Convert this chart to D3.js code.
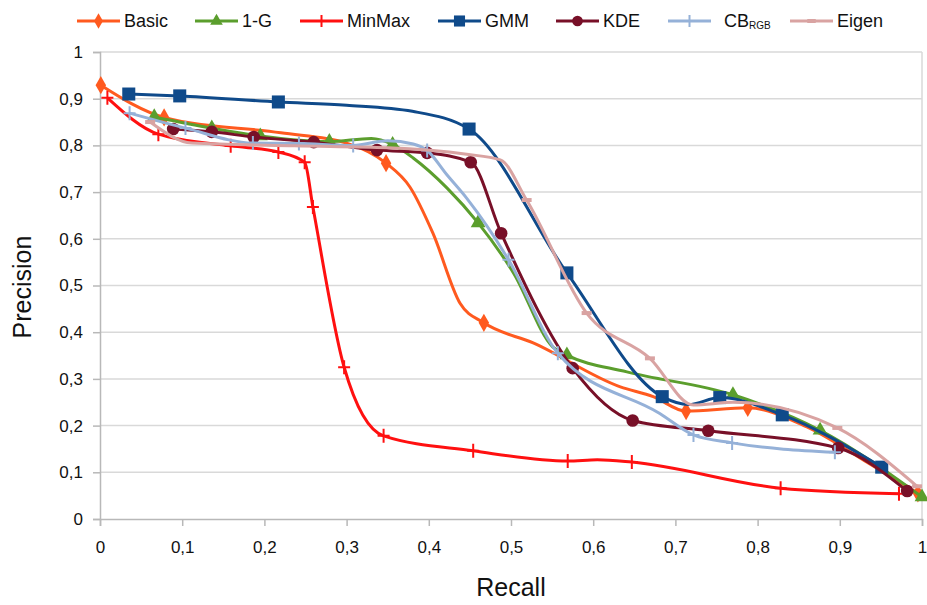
<!DOCTYPE html>
<html><head><meta charset="utf-8">
<script src="https://cdn.jsdelivr.net/npm/d3@7"></script>
<style>
body{margin:0;background:#fff;}
text{font-family:"Liberation Sans",Arial,sans-serif;fill:#111;}
</style></head>
<body><svg id="c" width="927" height="605"></svg>
<script>
// Data: [recall, precision, marker shown (1/0)]
const basic = [[0.001,0.929,1],[0.078,0.860,1],[0.22,0.827,0],[0.30,0.805,0],[0.348,0.762,1],[0.377,0.711,0],[0.405,0.612,0],[0.438,0.462,0],[0.467,0.420,1],[0.527,0.377,0],[0.633,0.283,0],[0.673,0.262,0],[0.713,0.231,1],[0.788,0.238,1],[0.86,0.197,0],[0.93,0.125,0],[0.995,0.055,1]];
const oneG = [[0.066,0.861,1],[0.136,0.837,1],[0.195,0.820,1],[0.279,0.808,1],[0.33,0.815,0],[0.356,0.802,1],[0.381,0.773,0],[0.422,0.709,0],[0.460,0.634,1],[0.503,0.527,0],[0.551,0.368,0],[0.568,0.351,1],[0.641,0.315,0],[0.770,0.266,1],[0.876,0.190,1],[1.0,0.047,1]];
const minMax = [[0.009,0.902,1],[0.071,0.824,1],[0.159,0.799,1],[0.217,0.786,1],[0.249,0.764,1],[0.259,0.668,1],[0.297,0.325,1],[0.345,0.178,1],[0.454,0.146,1],[0.569,0.124,1],[0.605,0.127,0],[0.647,0.122,1],[0.828,0.066,1],[0.972,0.054,1]];
const gmm = [[0.035,0.910,1],[0.097,0.906,1],[0.217,0.893,1],[0.30,0.886,0],[0.38,0.873,0],[0.449,0.835,1],[0.568,0.527,1],[0.684,0.262,1],[0.716,0.245,0],[0.754,0.260,1],[0.830,0.223,1],[0.951,0.111,1]];
const kde = [[0.089,0.835,1],[0.136,0.829,1],[0.187,0.818,1],[0.260,0.807,1],[0.337,0.790,1],[0.398,0.784,1],[0.451,0.764,1],[0.488,0.612,1],[0.575,0.323,1],[0.648,0.211,1],[0.740,0.189,1],[0.898,0.152,1],[0.982,0.060,1]];
const cbRGB = [[0.036,0.869,1],[0.104,0.837,1],[0.186,0.805,1],[0.242,0.804,1],[0.308,0.800,1],[0.35,0.810,0],[0.381,0.803,0],[0.398,0.789,1],[0.422,0.737,0],[0.446,0.687,0],[0.497,0.555,1],[0.557,0.355,1],[0.681,0.226,0],[0.722,0.180,1],[0.769,0.163,1],[0.894,0.143,1]];
const eigen = [[0.061,0.850,1],[0.112,0.805,0],[0.237,0.799,0],[0.35,0.795,0],[0.446,0.781,0],[0.487,0.769,0],[0.519,0.683,1],[0.592,0.441,1],[0.669,0.344,1],[0.722,0.244,0],[0.770,0.250,0],[0.897,0.195,1],[0.994,0.070,1]];

const seriesNames = ["Basic","1-G","MinMax","GMM","KDE","CBRGB","Eigen"];
const seriesData = [basic, oneG, minMax, gmm, kde, cbRGB, eigen];
const seriesColors = ["#ff5a1f","#5b9e2d","#ff1010","#0f4a8a","#781028","#95b1d8","#d9a3a2"];
const seriesMarkers = ["diamond","triangle","plus","square","circle","plus","dash"];
const xTicks = [0,0.1,0.2,0.3,0.4,0.5,0.6,0.7,0.8,0.9,1];
const yTicks = [0,0.1,0.2,0.3,0.4,0.5,0.6,0.7,0.8,0.9,1];
const xTitle = "Recall", yTitle = "Precision";

const svg = d3.select("#c");
const x = d3.scaleLinear().domain([0,1]).range([100,922]);
const y = d3.scaleLinear().domain([0,1]).range([519,52]);
const fmt = d => d===0||d===1 ? String(d) : d.toFixed(1).replace(".",",");

// grid
svg.append("g").selectAll("line").data(yTicks.filter(d=>d>0)).join("line")
  .attr("x1",x(0)).attr("x2",x(1)).attr("y1",d=>y(d)).attr("y2",d=>y(d))
  .attr("stroke","#d9d9d9").attr("stroke-width",1.5);
svg.append("line").attr("x1",x(1)).attr("x2",x(1)).attr("y1",y(1)).attr("y2",y(0))
  .attr("stroke","#d9d9d9").attr("stroke-width",1.5);

// axes
const xa = svg.append("g").attr("transform",`translate(0,${y(0)})`)
  .call(d3.axisBottom(x).tickValues(xTicks).tickFormat(fmt).tickSize(7).tickPadding(15));
const ya = svg.append("g").attr("transform",`translate(${x(0)},0)`)
  .call(d3.axisLeft(y).tickValues(yTicks).tickFormat(fmt).tickSize(7).tickPadding(10));
[xa,ya].forEach(a=>{
  a.select(".domain").attr("stroke","#b8b8b8").attr("stroke-width",1.5);
  a.selectAll(".tick line").attr("stroke","#b8b8b8").attr("stroke-width",1.5);
  a.selectAll(".tick text").attr("font-size",17).attr("fill","#111")
    .style("font-family",'"Liberation Sans",Arial,sans-serif');
});

svg.append("text").attr("x",511).attr("y",596).attr("text-anchor","middle")
  .attr("font-size",25).text(xTitle);
svg.append("text").attr("transform","translate(31,287) rotate(-90)").attr("text-anchor","middle")
  .attr("font-size",25).text(yTitle);

function marker(g, type, color, cx, cy, scale){
  const s = scale||1;
  if(type==="plus"){
    g.append("path").attr("d",`M${cx-6*s},${cy}H${cx+6*s}M${cx},${cy-7*s}V${cy+7*s}`)
      .attr("stroke",color).attr("stroke-width",2).attr("fill","none");
  } else if(type==="dash"){
    g.append("path").attr("d",`M${cx-5*s},${cy}H${cx+5*s}`)
      .attr("stroke",color).attr("stroke-width",4).attr("fill","none");
  } else {
    const sym = {diamond:d3.symbolDiamond,triangle:d3.symbolTriangle,square:d3.symbolSquare,circle:d3.symbolCircle}[type];
    const size = {diamond:95,triangle:95,square:170,circle:125}[type]*s*s;
    g.append("path").attr("d",d3.symbol().type(sym).size(size)())
      .attr("transform",`translate(${cx},${cy})`).attr("fill",color);
  }
}

const line = d3.line().x(d=>x(d[0])).y(d=>y(d[1])).curve(d3.curveMonotoneX);
seriesData.forEach((data,i)=>{
  const g = svg.append("g");
  g.append("path").attr("d",line(data)).attr("fill","none")
    .attr("stroke",seriesColors[i]).attr("stroke-width",3).attr("stroke-linejoin","round");
  data.filter(d=>d[2]).forEach(d=>marker(g,seriesMarkers[i],seriesColors[i],x(d[0]),y(d[1])));
});

// legend
const legX = [77,195,300,438,556,668,790];
seriesNames.forEach((n,i)=>{
  const g = svg.append("g");
  const lx = legX[i], ly = 21;
  g.append("line").attr("x1",lx).attr("x2",lx+43).attr("y1",ly).attr("y2",ly)
    .attr("stroke",seriesColors[i]).attr("stroke-width",3);
  marker(g,seriesMarkers[i],seriesColors[i],lx+21.5,ly,0.85);
  const t = g.append("text").attr("x",lx+47).attr("y",ly+6).attr("font-size",18);
  if(n==="CBRGB"){
    t.attr("x",lx+56);
    t.append("tspan").text("CB");
    t.append("tspan").attr("font-size",10).attr("dy",2).text("RGB");
  } else t.text(n);
});
</script></body></html>
